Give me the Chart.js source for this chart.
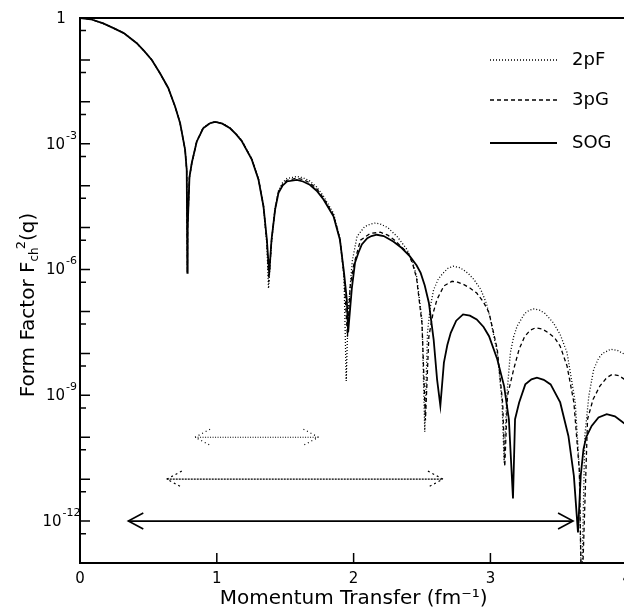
<!DOCTYPE html>
<html>
<head>
<meta charset="utf-8">
<script src="https://cdn.jsdelivr.net/npm/chart.js@4"></script>
<style>
  html, body { margin: 0; padding: 0; background: #fff; overflow: hidden; }
  #wrap { width: 639px; height: 613px; }
</style>
</head>
<body>
<div id="wrap"><canvas id="chart" width="639" height="613"></canvas></div>
<script>
// momentum transfer q (fm^-1) and squared charge form factor
const qSOG = [0, 0.08, 0.17, 0.245, 0.32, 0.415, 0.47, 0.525, 0.585, 0.645,
  0.695, 0.732, 0.768, 0.78, 0.785, 0.787, 0.80, 0.817, 0.853, 0.90,
  0.95, 0.99, 1.04, 1.097, 1.14, 1.183, 1.256, 1.305, 1.341, 1.366,
  1.383, 1.40, 1.426, 1.451, 1.48, 1.512, 1.585, 1.63, 1.68, 1.73,
  1.78, 1.853, 1.90, 1.93, 1.95, 1.96, 1.987, 2.01, 2.035, 2.06,
  2.10, 2.13, 2.17, 2.22, 2.29, 2.35, 2.41, 2.46, 2.49, 2.52,
  2.55, 2.585, 2.61, 2.634, 2.66, 2.685, 2.71, 2.75, 2.80, 2.85,
  2.90, 2.95, 2.99, 3.05, 3.10, 3.135, 3.165, 3.18, 3.21, 3.255,
  3.30, 3.34, 3.39, 3.44, 3.51, 3.57, 3.61, 3.64, 3.66, 3.68,
  3.70, 3.74, 3.79, 3.85, 3.91, 3.97, 4.0];
const ffSOG = [1, 0.933, 0.741, 0.575, 0.437, 0.251, 0.162, 0.1, 0.0479, 0.0214,
  7.76e-3, 3.09e-3, 7.24e-4, 2.40e-4, 8.32e-7, 1.0e-5, 1.58e-4, 3.47e-4, 1.12e-3, 2.34e-3,
  3.09e-3, 3.31e-3, 3.02e-3, 2.34e-3, 1.70e-3, 1.15e-3, 4.17e-4, 1.38e-4, 3.24e-5, 5.13e-6,
  7.94e-7, 5.13e-6, 2.69e-5, 6.76e-5, 1.0e-4, 1.26e-4, 1.38e-4, 1.26e-4, 1.05e-4, 7.59e-5,
  4.68e-5, 1.86e-5, 5.13e-6, 8.32e-7, 1.95e-7, 3.16e-8, 3.55e-7, 1.45e-6, 2.51e-6, 3.98e-6,
  5.62e-6, 6.31e-6, 6.76e-6, 6.31e-6, 4.68e-6, 3.31e-6, 2.09e-6, 1.26e-6, 8.32e-7, 4.17e-7,
  1.62e-7, 2.14e-8, 2.40e-9, 5.62e-10, 6.03e-9, 1.58e-8, 3.09e-8, 6.03e-8, 8.51e-8, 7.94e-8,
  6.46e-8, 4.27e-8, 2.57e-8, 7.24e-9, 1.66e-9, 2.69e-10, 3.47e-12, 2.69e-10, 6.76e-10, 1.82e-9,
  2.40e-9, 2.63e-9, 2.34e-9, 1.82e-9, 6.76e-10, 1.07e-10, 1.20e-11, 5.37e-13, 1.20e-11, 5.13e-11,
  1.0e-10, 1.86e-10, 2.95e-10, 3.55e-10, 3.16e-10, 2.24e-10, 1.91e-10];

const q2pF = [0, 0.08, 0.17, 0.245, 0.32, 0.415, 0.47, 0.525, 0.585, 0.645,
  0.695, 0.732, 0.768, 0.78, 0.785, 0.787, 0.80, 0.817, 0.853, 0.90,
  0.95, 0.99, 1.04, 1.097, 1.14, 1.183, 1.256, 1.305, 1.341, 1.366,
  1.378, 1.40, 1.426, 1.451, 1.48, 1.512, 1.585, 1.63, 1.68, 1.73,
  1.78, 1.853, 1.90, 1.93, 1.946, 1.96, 1.99, 2.025, 2.08, 2.12,
  2.16, 2.20, 2.25, 2.32, 2.39, 2.43, 2.46, 2.50, 2.52, 2.54,
  2.56, 2.585, 2.62, 2.65, 2.69, 2.73, 2.77, 2.80, 2.84, 2.88,
  2.93, 2.97, 3.0, 3.05, 3.085, 3.10, 3.12, 3.146, 3.17, 3.195,
  3.25, 3.28, 3.316, 3.36, 3.40, 3.46, 3.51, 3.56, 3.62, 3.65,
  3.665, 3.69, 3.72, 3.755, 3.79, 3.82, 3.88, 3.93, 3.98, 4.0];
const ff2pF = [1, 0.933, 0.741, 0.575, 0.437, 0.251, 0.162, 0.1, 0.0479, 0.0214,
  7.76e-3, 3.09e-3, 7.24e-4, 2.40e-4, 8.32e-7, 1.0e-5, 1.58e-4, 3.47e-4, 1.12e-3, 2.40e-3,
  3.16e-3, 3.39e-3, 3.09e-3, 2.40e-3, 1.74e-3, 1.20e-3, 4.37e-4, 1.45e-4, 3.24e-5, 4.0e-6,
  3.55e-7, 4.57e-6, 2.95e-5, 7.59e-5, 1.17e-4, 1.48e-4, 1.66e-4, 1.55e-4, 1.29e-4, 9.33e-5,
  5.62e-5, 2.19e-5, 5.62e-6, 6.3e-7, 2.19e-9, 1.0e-7, 1.58e-6, 6.17e-6, 1.05e-5, 1.20e-5,
  1.29e-5, 1.20e-5, 1.0e-5, 6.03e-6, 3.02e-6, 1.58e-6, 6.92e-7, 6.31e-8, 1.35e-10, 3.16e-8,
  1.26e-7, 3.31e-7, 6.03e-7, 7.94e-7, 1.07e-6, 1.20e-6, 1.12e-6, 1.0e-6, 7.94e-7, 5.75e-7,
  3.31e-7, 1.58e-7, 6.46e-8, 1.05e-8, 6.76e-10, 2.51e-11, 1.0e-9, 1.05e-8, 2.51e-8, 4.47e-8,
  8.91e-8, 1.05e-7, 1.15e-7, 1.07e-7, 8.91e-8, 5.37e-8, 2.82e-8, 1.05e-8, 6.76e-10, 1.74e-11,
  1e-14, 1.07e-10, 1.0e-9, 4.17e-9, 7.59e-9, 1.0e-8, 1.26e-8, 1.17e-8, 9.55e-9, 8.91e-9];

const q3pG = [0, 0.08, 0.17, 0.245, 0.32, 0.415, 0.47, 0.525, 0.585, 0.645,
  0.695, 0.732, 0.768, 0.78, 0.785, 0.787, 0.80, 0.817, 0.853, 0.90,
  0.95, 0.99, 1.04, 1.097, 1.14, 1.183, 1.256, 1.305, 1.341, 1.366,
  1.38, 1.40, 1.426, 1.451, 1.48, 1.512, 1.585, 1.63, 1.68, 1.73,
  1.78, 1.853, 1.90, 1.93, 1.955, 1.975, 2.0, 2.05, 2.12, 2.195,
  2.25, 2.30, 2.40, 2.43, 2.46, 2.50, 2.525, 2.55, 2.58, 2.61,
  2.66, 2.72, 2.76, 2.80, 2.85, 2.90, 2.95, 2.99, 3.05, 3.09,
  3.105, 3.125, 3.17, 3.21, 3.25, 3.29, 3.33, 3.38, 3.42, 3.47,
  3.51, 3.56, 3.61, 3.65, 3.667, 3.71, 3.75, 3.80, 3.85, 3.89,
  3.94, 3.98, 4.0];
const ff3pG = [1, 0.933, 0.741, 0.575, 0.437, 0.251, 0.162, 0.1, 0.0479, 0.0214,
  7.76e-3, 3.09e-3, 7.24e-4, 2.40e-4, 8.32e-7, 1.0e-5, 1.58e-4, 3.47e-4, 1.12e-3, 2.37e-3,
  3.12e-3, 3.35e-3, 3.05e-3, 2.37e-3, 1.72e-3, 1.17e-3, 4.27e-4, 1.41e-4, 3.24e-5, 4.5e-6,
  5.01e-7, 4.8e-6, 2.8e-5, 7.2e-5, 1.07e-4, 1.35e-4, 1.51e-4, 1.41e-4, 1.17e-4, 8.51e-5,
  5.01e-5, 2.0e-5, 5.37e-6, 7.4e-7, 2.51e-8, 4.0e-7, 1.26e-6, 5.01e-6, 7.24e-6, 7.76e-6,
  6.61e-6, 5.01e-6, 2.40e-6, 1.41e-6, 6.31e-7, 5.01e-8, 2.51e-10, 2.51e-8, 8.91e-8, 1.95e-7,
  4.07e-7, 5.25e-7, 5.01e-7, 4.47e-7, 3.63e-7, 2.75e-7, 1.66e-7, 9.33e-8, 1.26e-8, 6.31e-10,
  2.0e-11, 1.0e-9, 4.17e-9, 1.26e-8, 2.51e-8, 3.55e-8, 4.07e-8, 3.80e-8, 3.16e-8, 2.34e-8,
  1.48e-8, 5.01e-9, 6.76e-10, 1.58e-11, 1e-14, 2.69e-10, 7.94e-10, 1.66e-9, 2.63e-9, 3.16e-9,
  2.95e-9, 2.40e-9, 2.24e-9];

// q ranges marked by the double arrows (2pF, 3pG, SOG)
const arrowFrom = [0.841, 0.634, 0.353];
const arrowTo = [1.743, 2.653, 3.604];
const arrowLevel = [1e-10, 1e-11, 1e-12];

const seriesNames = ['2pF', '3pG', 'SOG'];
const xTickValues = [0, 1, 2, 3, 4];
const yMajorValues = [1, 1e-3, 1e-6, 1e-9, 1e-12];
const yMajorExp = ['', '-3', '-6', '-9', '-12'];
const yTickValues = [1, 0.5, 0.1, 0.05, 1e-2, 5e-3, 1e-3, 5e-4, 1e-4, 5e-5, 1e-5, 5e-6, 1e-6, 5e-7, 1e-7, 5e-8, 1e-8, 5e-9, 1e-9, 5e-10, 1e-10, 5e-11, 1e-11, 5e-12, 1e-12, 5e-13, 1e-13];

const FONT = '"DejaVu Sans", sans-serif';
const dashes = [[1, 2], [4, 3], []];
const widths = [1.3, 1.3, 1.8];
const arrowDash = [[1, 1.5], [2, 1], []];
const headDash = [[1, 3], [2, 3], []];

function pts(xs, ys) {
  return xs.map((x, i) => ({ x: x, y: ys[i] }));
}

const datasets = [
  { label: '2pF', data: pts(q2pF, ff2pF) },
  { label: '3pG', data: pts(q3pG, ff3pG) },
  { label: 'SOG', data: pts(qSOG, ffSOG) }
].map((d, i) => Object.assign(d, {
  borderColor: '#000', borderWidth: widths[i], borderDash: dashes[i],
  pointRadius: 0, tension: 0, fill: false
}));

arrowFrom.forEach((a, i) => {
  datasets.push({
    label: 'range ' + seriesNames[i],
    arrow: true,
    headDash: headDash[i],
    data: [{ x: a, y: arrowLevel[i] }, { x: arrowTo[i], y: arrowLevel[i] }],
    borderColor: '#000', borderWidth: i === 2 ? 1.6 : 1.2, borderDash: arrowDash[i],
    pointRadius: 0, tension: 0, fill: false
  });
});

// arrow heads, inward ticks, y labels, frame, legend and y title
const decor = {
  id: 'decor',
  afterDatasetsDraw(chart) {
    const ctx = chart.ctx;
    chart.data.datasets.forEach((ds, i) => {
      if (!ds.arrow) return;
      const meta = chart.getDatasetMeta(i);
      const p0 = meta.data[0], p1 = meta.data[1];
      const w = 15, h = 8;
      ctx.save();
      ctx.strokeStyle = '#000';
      ctx.lineWidth = ds.borderWidth;
      ctx.setLineDash(ds.headDash);
      ctx.beginPath();
      ctx.moveTo(p0.x + w, p0.y - h); ctx.lineTo(p0.x, p0.y); ctx.lineTo(p0.x + w, p0.y + h);
      ctx.moveTo(p1.x - w, p1.y - h); ctx.lineTo(p1.x, p1.y); ctx.lineTo(p1.x - w, p1.y + h);
      ctx.stroke();
      ctx.restore();
    });
  },
  afterDraw(chart) {
    const ctx = chart.ctx;
    const area = chart.chartArea;
    const xs = chart.scales.x, ys = chart.scales.y;
    ctx.save();
    ctx.strokeStyle = '#000';
    ctx.fillStyle = '#000';
    ctx.lineWidth = 2;
    ctx.beginPath();
    ctx.moveTo(area.left - 1, area.top); ctx.lineTo(area.right, area.top);
    ctx.lineTo(area.right, area.bottom);
    ctx.stroke();

    ctx.lineWidth = 1.5;
    ctx.beginPath();
    ys.ticks.forEach(t => {
      const lg = Math.log10(t.value);
      const major = Math.abs(lg - Math.round(lg)) < 0.01;
      const py = ys.getPixelForValue(t.value);
      if (py <= area.top + 1 || py >= area.bottom - 1) return;
      ctx.moveTo(area.left, py); ctx.lineTo(area.left + (major ? 10 : 6), py);
    });
    xs.ticks.forEach(t => {
      const px = xs.getPixelForValue(t.value);
      if (px <= area.left + 1 || px >= area.right - 1) return;
      ctx.moveTo(px, area.bottom); ctx.lineTo(px, area.bottom - 10);
    });
    ctx.stroke();

    // y tick labels as 10 with raised exponent
    ctx.textBaseline = 'middle';
    ctx.textAlign = 'left';
    yMajorValues.forEach((v, k) => {
      const py = ys.getPixelForValue(v);
      const base = k === 0 ? '1' : '10';
      ctx.font = '15px ' + FONT;
      const wb = ctx.measureText(base).width;
      ctx.font = '11px ' + FONT;
      const we = ctx.measureText(yMajorExp[k]).width;
      const x0 = 61 - (wb + we) / 2;
      ctx.font = '15px ' + FONT;
      ctx.fillText(base, x0, py + 1);
      ctx.font = '11px ' + FONT;
      ctx.fillText(yMajorExp[k], x0 + wb + 1, py - 8);
    });

    // legend
    const legendY = [60, 100, 143];
    for (let i = 0; i < 3; i++) {
      const ds = chart.data.datasets[i];
      ctx.lineWidth = ds.borderWidth;
      ctx.setLineDash(ds.borderDash);
      ctx.beginPath();
      ctx.moveTo(490, legendY[i]); ctx.lineTo(557, legendY[i]);
      ctx.stroke();
      ctx.setLineDash([]);
      ctx.font = '18px ' + FONT;
      ctx.fillText(ds.label, 572, legendY[i]);
    }

    // y axis title with sub/superscript
    ctx.translate(27, 304);
    ctx.rotate(-Math.PI / 2);
    ctx.textBaseline = 'alphabetic';
    const parts = [
      { t: 'Form Factor F', f: 20, dy: 0 },
      { t: 'ch', f: 12, dy: 4 },
      { t: '2', f: 13, dy: -9 },
      { t: '(q)', f: 20, dy: 0 }
    ];
    let total = 0;
    parts.forEach(p => { ctx.font = p.f + 'px ' + FONT; p.w = ctx.measureText(p.t).width; total += p.w; });
    let x = -total / 2;
    parts.forEach(p => {
      ctx.font = p.f + 'px ' + FONT;
      ctx.fillText(p.t, x, 7 + p.dy);
      x += p.w + (p.t === 'ch' ? -2 : 0);
    });
    ctx.restore();
  }
};

new Chart(document.getElementById('chart'), {
  type: 'line',
  data: { datasets: datasets },
  options: {
    responsive: false,
    animation: false,
    layout: { padding: { top: 18, right: 0, left: 0, bottom: 0 } },
    plugins: { legend: { display: false }, tooltip: { enabled: false } },
    scales: {
      x: {
        type: 'linear', min: 0, max: 4,
        afterBuildTicks: s => { s.ticks = xTickValues.map(v => ({ value: v })); },
        afterFit: s => { s.height = 50; },
        grid: { display: false, drawTicks: false },
        border: { display: true, color: '#000', width: 2 },
        ticks: { color: '#000', padding: 7, font: { family: FONT, size: 15 }, maxRotation: 0 },
        title: { display: true, text: 'Momentum Transfer (fm\u207B\u00B9)', color: '#000',
                 font: { family: FONT, size: 20 }, padding: { top: 0, bottom: 2 } }
      },
      y: {
        type: 'logarithmic', min: 1e-13, max: 1,
        afterBuildTicks: s => { s.ticks = yTickValues.map(v => ({ value: v })); },
        afterFit: s => { s.width = 80; },
        grid: { display: false, drawTicks: false },
        border: { display: true, color: '#000', width: 2 },
        ticks: { display: false, autoSkip: false }
      }
    }
  },
  plugins: [decor]
});
</script>
</body>
</html>
